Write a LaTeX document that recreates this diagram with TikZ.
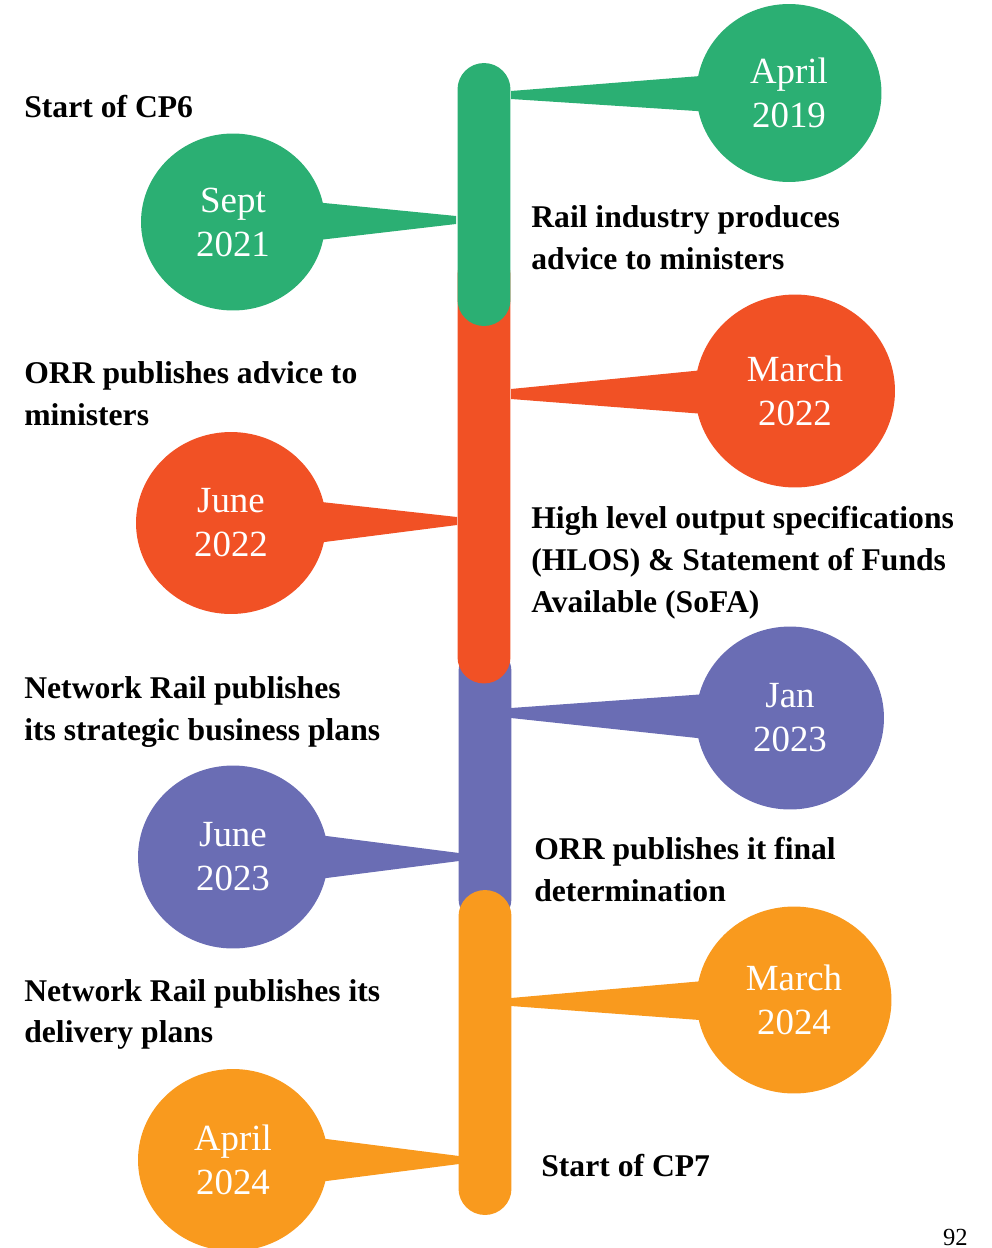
\documentclass[tikz,border=0pt]{standalone}
\usepackage{fontspec}
\setmainfont{Liberation Serif}
\usepackage{xcolor}
\usepackage{tikz}
\usetikzlibrary{shapes.geometric,calc,backgrounds}
\definecolor{cpgreen}{HTML}{2BAF73}
\definecolor{cpred}{HTML}{F15125}
\definecolor{cpblue}{HTML}{6A6DB4}
\definecolor{cpamber}{HTML}{F99A1E}

\begin{document}
\begin{tikzpicture}[
  x=0.02cm,y=-0.02cm,
  seg/.style={rectangle,rounded corners=0.53cm,minimum width=1.06cm,inner sep=0},
  bubble/.style={ellipse,inner sep=0,text=white,align=center,
                 font=\fontsize{21}{25}\selectfont},
  lbl/.style={anchor=base west,inner sep=0,align=left,
              font=\fontsize{18}{23.9}\selectfont\bfseries}
]
\useasboundingbox (0,0) rectangle (991,1248);
% the bar, one piece per period
\node[seg,fill=cpblue,minimum height=5.6cm] (s3) at (485,785) {};
\node[seg,fill=cpred,minimum height=8.7cm] (s2) at (484,466) {};
\node[seg,fill=cpgreen,minimum height=5.26cm] (s1) at (484,194.5) {};
\node[seg,fill=cpamber,minimum height=6.5cm] (s4) at (485,1052.5) {};
% tips on the bar
\coordinate (tA) at (511,95);
\coordinate (tB) at (456,220);
\coordinate (tC) at (511,394);
\coordinate (tD) at (457,521);
\coordinate (tE) at (511,713);
\coordinate (tF) at (459,857);
\coordinate (tG) at (511,1002);
\coordinate (tH) at (459,1160);
% bubbles
\node[bubble,fill=cpgreen,minimum width=3.7cm,minimum height=3.56cm] (apr19) at (789,93) {April\\2019};
\node[bubble,fill=cpgreen,minimum width=3.68cm,minimum height=3.54cm] (sep21) at (233,222) {Sept\\2021};
\node[bubble,fill=cpred,minimum width=4cm,minimum height=3.86cm] (mar22) at (795,391) {March\\2022};
\node[bubble,fill=cpred,minimum width=3.8cm,minimum height=3.64cm] (jun22) at (231,523) {June\\2022};
\node[bubble,fill=cpblue,minimum width=3.76cm,minimum height=3.66cm] (jan23) at (790,718) {Jan\\2023};
\node[bubble,fill=cpblue,minimum width=3.8cm,minimum height=3.66cm] (jun23) at (233,857) {June\\2023};
\node[bubble,fill=cpamber,minimum width=3.9cm,minimum height=3.74cm] (mar24) at (794,1000) {March\\2024};
\node[bubble,fill=cpamber,minimum width=3.8cm,minimum height=3.64cm] (apr24) at (233,1160) {April\\2024};
% tails, behind the bubbles
\begin{scope}[on background layer]
\fill[cpgreen] ($(apr19.center)+(0,-24)$) -- ($(tA)+(0,-4)$) -- ($(tA)+(0,4)$) -- ($(apr19.center)+(0,24)$) -- cycle;
\fill[cpgreen] ($(sep21.center)+(0,-28)$) -- ($(tB)+(0,-4)$) -- ($(tB)+(0,4)$) -- ($(sep21.center)+(0,28)$) -- cycle;
\fill[cpred] ($(mar22.center)+(0,-30)$) -- ($(tC)+(0,-5)$) -- ($(tC)+(0,5)$) -- ($(mar22.center)+(0,30)$) -- cycle;
\fill[cpred] ($(jun22.center)+(0,-31)$) -- ($(tD)+(0,-4)$) -- ($(tD)+(0,4)$) -- ($(jun22.center)+(0,31)$) -- cycle;
\fill[cpblue] ($(jan23.center)+(0,-30)$) -- ($(tE)+(0,-5)$) -- ($(tE)+(0,5)$) -- ($(jan23.center)+(0,30)$) -- cycle;
\fill[cpblue] ($(jun23.center)+(0,-33)$) -- ($(tF)+(0,-4)$) -- ($(tF)+(0,4)$) -- ($(jun23.center)+(0,33)$) -- cycle;
\fill[cpamber] ($(mar24.center)+(0,-27)$) -- ($(tG)+(0,-4)$) -- ($(tG)+(0,4)$) -- ($(mar24.center)+(0,27)$) -- cycle;
\fill[cpamber] ($(apr24.center)+(0,-33)$) -- ($(tH)+(0,-4)$) -- ($(tH)+(0,4)$) -- ($(apr24.center)+(0,33)$) -- cycle;
\end{scope}
% milestones (anchored at the last line)
\node[lbl] (cp6) at (24,117) {Start of CP6};
\node[lbl] (advice) at (531,269) {Rail industry produces\\advice to ministers};
\node[lbl] (orradv) at (24,425) {ORR publishes advice to\\ministers};
\node[lbl] (hlos) at (531,612) {High level output specifications\\(HLOS) \& Statement of Funds\\Available (SoFA)};
\node[lbl] (sbp) at (24,740) {Network Rail publishes\\its strategic business plans};
\node[lbl] (fd) at (534,901) {ORR publishes it final\\determination};
\node[lbl,font=\fontsize{18}{22.8}\selectfont\bfseries] (dp) at (24,1042) {Network Rail publishes its\\delivery plans};
\node[lbl] (cp7) at (541,1176) {Start of CP7};
\node[anchor=base east,inner sep=0,font=\fontsize{14}{16}\selectfont] (pg) at (968,1245) {92};
\end{tikzpicture}
\end{document}
